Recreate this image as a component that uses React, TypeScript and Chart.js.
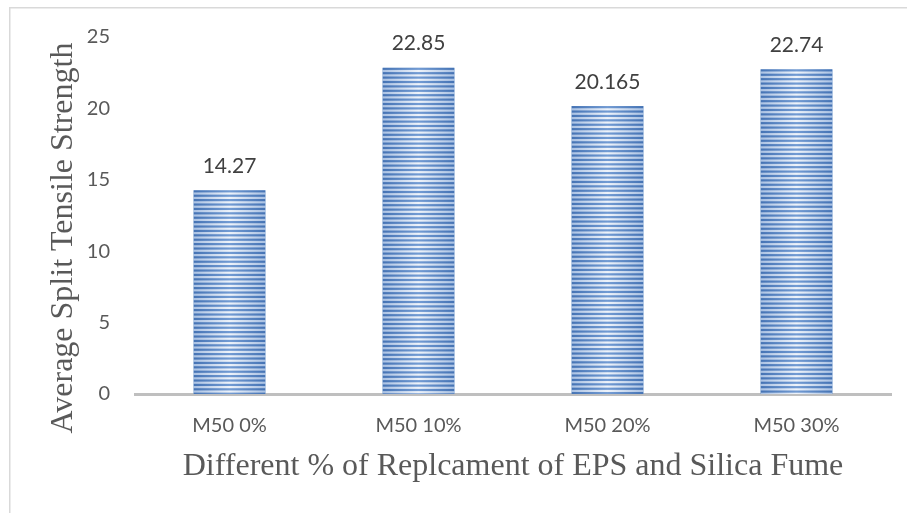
import React, { useEffect, useRef } from 'react';
import { Chart, registerables } from 'chart.js';

Chart.register(...registerables);

const categories = ['M50 0%', 'M50 10%', 'M50 20%', 'M50 30%'];
const strengthValues = [14.27, 22.85, 20.165, 22.74];
const valueLabels = ['14.27', '22.85', '20.165', '22.74'];
const yMin = 0;
const yMax = 25;
const yStep = 5;
const yTitle = 'Average Split Tensile Strength';
const xTitle = 'Different % of Replcament of EPS and Silica Fume';

const W = 907;
const H = 513;

const framePlugin = {
  id: 'frame',
  beforeDraw(chart: any) {
    const ctx = chart.ctx;
    ctx.save();
    ctx.fillStyle = '#ffffff';
    ctx.fillRect(0, 0, chart.width, chart.height);
    ctx.fillStyle = '#d9d9d9';
    ctx.fillRect(9, 7, chart.width - 9, 1.5);
    ctx.fillRect(9, 7, 1.5, chart.height - 7);
    ctx.restore();
  },
};

const stripePlugin = {
  id: 'stripes',
  afterDatasetsDraw(chart: any) {
    const ctx = chart.ctx;
    const meta = chart.getDatasetMeta(0);
    meta.data.forEach((bar: any) => {
      const { x, y, base, width } = bar.getProps(['x', 'y', 'base', 'width'], true);
      const left = x - width / 2;
      const right = x + width / 2;
      const top = Math.min(y, base);
      const bottom = Math.max(y, base);
      ctx.save();
      ctx.beginPath();
      ctx.rect(left, top, width, bottom - top);
      ctx.clip();
      const lg = ctx.createLinearGradient(left, 0, right, 0);
      lg.addColorStop(0, '#a9c1e3');
      lg.addColorStop(0.5, '#eef3fa');
      lg.addColorStop(1, '#a9c1e3');
      ctx.fillStyle = lg;
      ctx.fillRect(left, top, width, bottom - top);
      const dg = ctx.createLinearGradient(left, 0, right, 0);
      dg.addColorStop(0, '#4573b4');
      dg.addColorStop(0.5, '#729bd3');
      dg.addColorStop(1, '#4573b4');
      ctx.fillStyle = dg;
      for (let sy = top; sy < bottom; sy += 4.4) {
        ctx.fillRect(left, sy, width, 2.2);
      }
      ctx.restore();
    });
  },
};

const textPlugin = {
  id: 'texts',
  afterDraw(chart: any) {
    const ctx = chart.ctx;
    const meta = chart.getDatasetMeta(0);
    ctx.save();
    ctx.fillStyle = '#404040';
    ctx.font = '21px Lato';
    ctx.textAlign = 'center';
    ctx.textBaseline = 'middle';
    meta.data.forEach((bar: any, i: number) => {
      const { x, y } = bar.getProps(['x', 'y'], true);
      ctx.fillText(valueLabels[i], x, y - 24);
    });
    ctx.fillStyle = '#595959';
    ctx.font = '32px "Liberation Serif"';
    ctx.fillText(xTitle, 513, 467);
    ctx.translate(64, 238);
    ctx.rotate(-Math.PI / 2);
    ctx.fillText(yTitle, 0, 0);
    ctx.restore();
  },
};

export default function App() {
  const ref = useRef<HTMLCanvasElement | null>(null);
  useEffect(() => {
    document.body.style.margin = '0';
    if (!ref.current) return;
    const chart = new Chart(ref.current, {
      type: 'bar',
      data: {
        labels: categories,
        datasets: [
          {
            data: strengthValues,
            backgroundColor: '#5b8ac6',
            borderWidth: 0,
            barPercentage: 0.38,
            categoryPercentage: 1,
          },
        ],
      },
      options: {
        responsive: false,
        animation: false,
        devicePixelRatio: 1,
        layout: { padding: { left: 0, top: 37, right: 16, bottom: 0 } },
        plugins: {
          legend: { display: false },
          tooltip: { enabled: false },
          title: { display: false },
        },
        scales: {
          x: {
            grid: { display: false, drawTicks: false },
            border: { display: true, color: '#bfbfbf', width: 3 },
            ticks: { color: '#595959', font: { family: 'Lato', size: 20 }, padding: 20 },
            afterFit: (scale: any) => {
              scale.height = H - 394;
            },
          },
          y: {
            min: yMin,
            max: yMax,
            grid: { display: false, drawTicks: false },
            border: { display: false },
            ticks: { stepSize: yStep, color: '#595959', font: { family: 'Lato', size: 20 }, padding: 25 },
            afterFit: (scale: any) => {
              scale.width = 135;
            },
          },
        },
      },
      plugins: [framePlugin, stripePlugin, textPlugin],
    });
    return () => chart.destroy();
  }, []);
  return (
    <div style={{ position: 'fixed', left: 0, top: 0, width: W, height: H, background: '#fff' }}>
      <canvas ref={ref} width={W} height={H} style={{ display: 'block', width: W, height: H }} />
    </div>
  );
}
